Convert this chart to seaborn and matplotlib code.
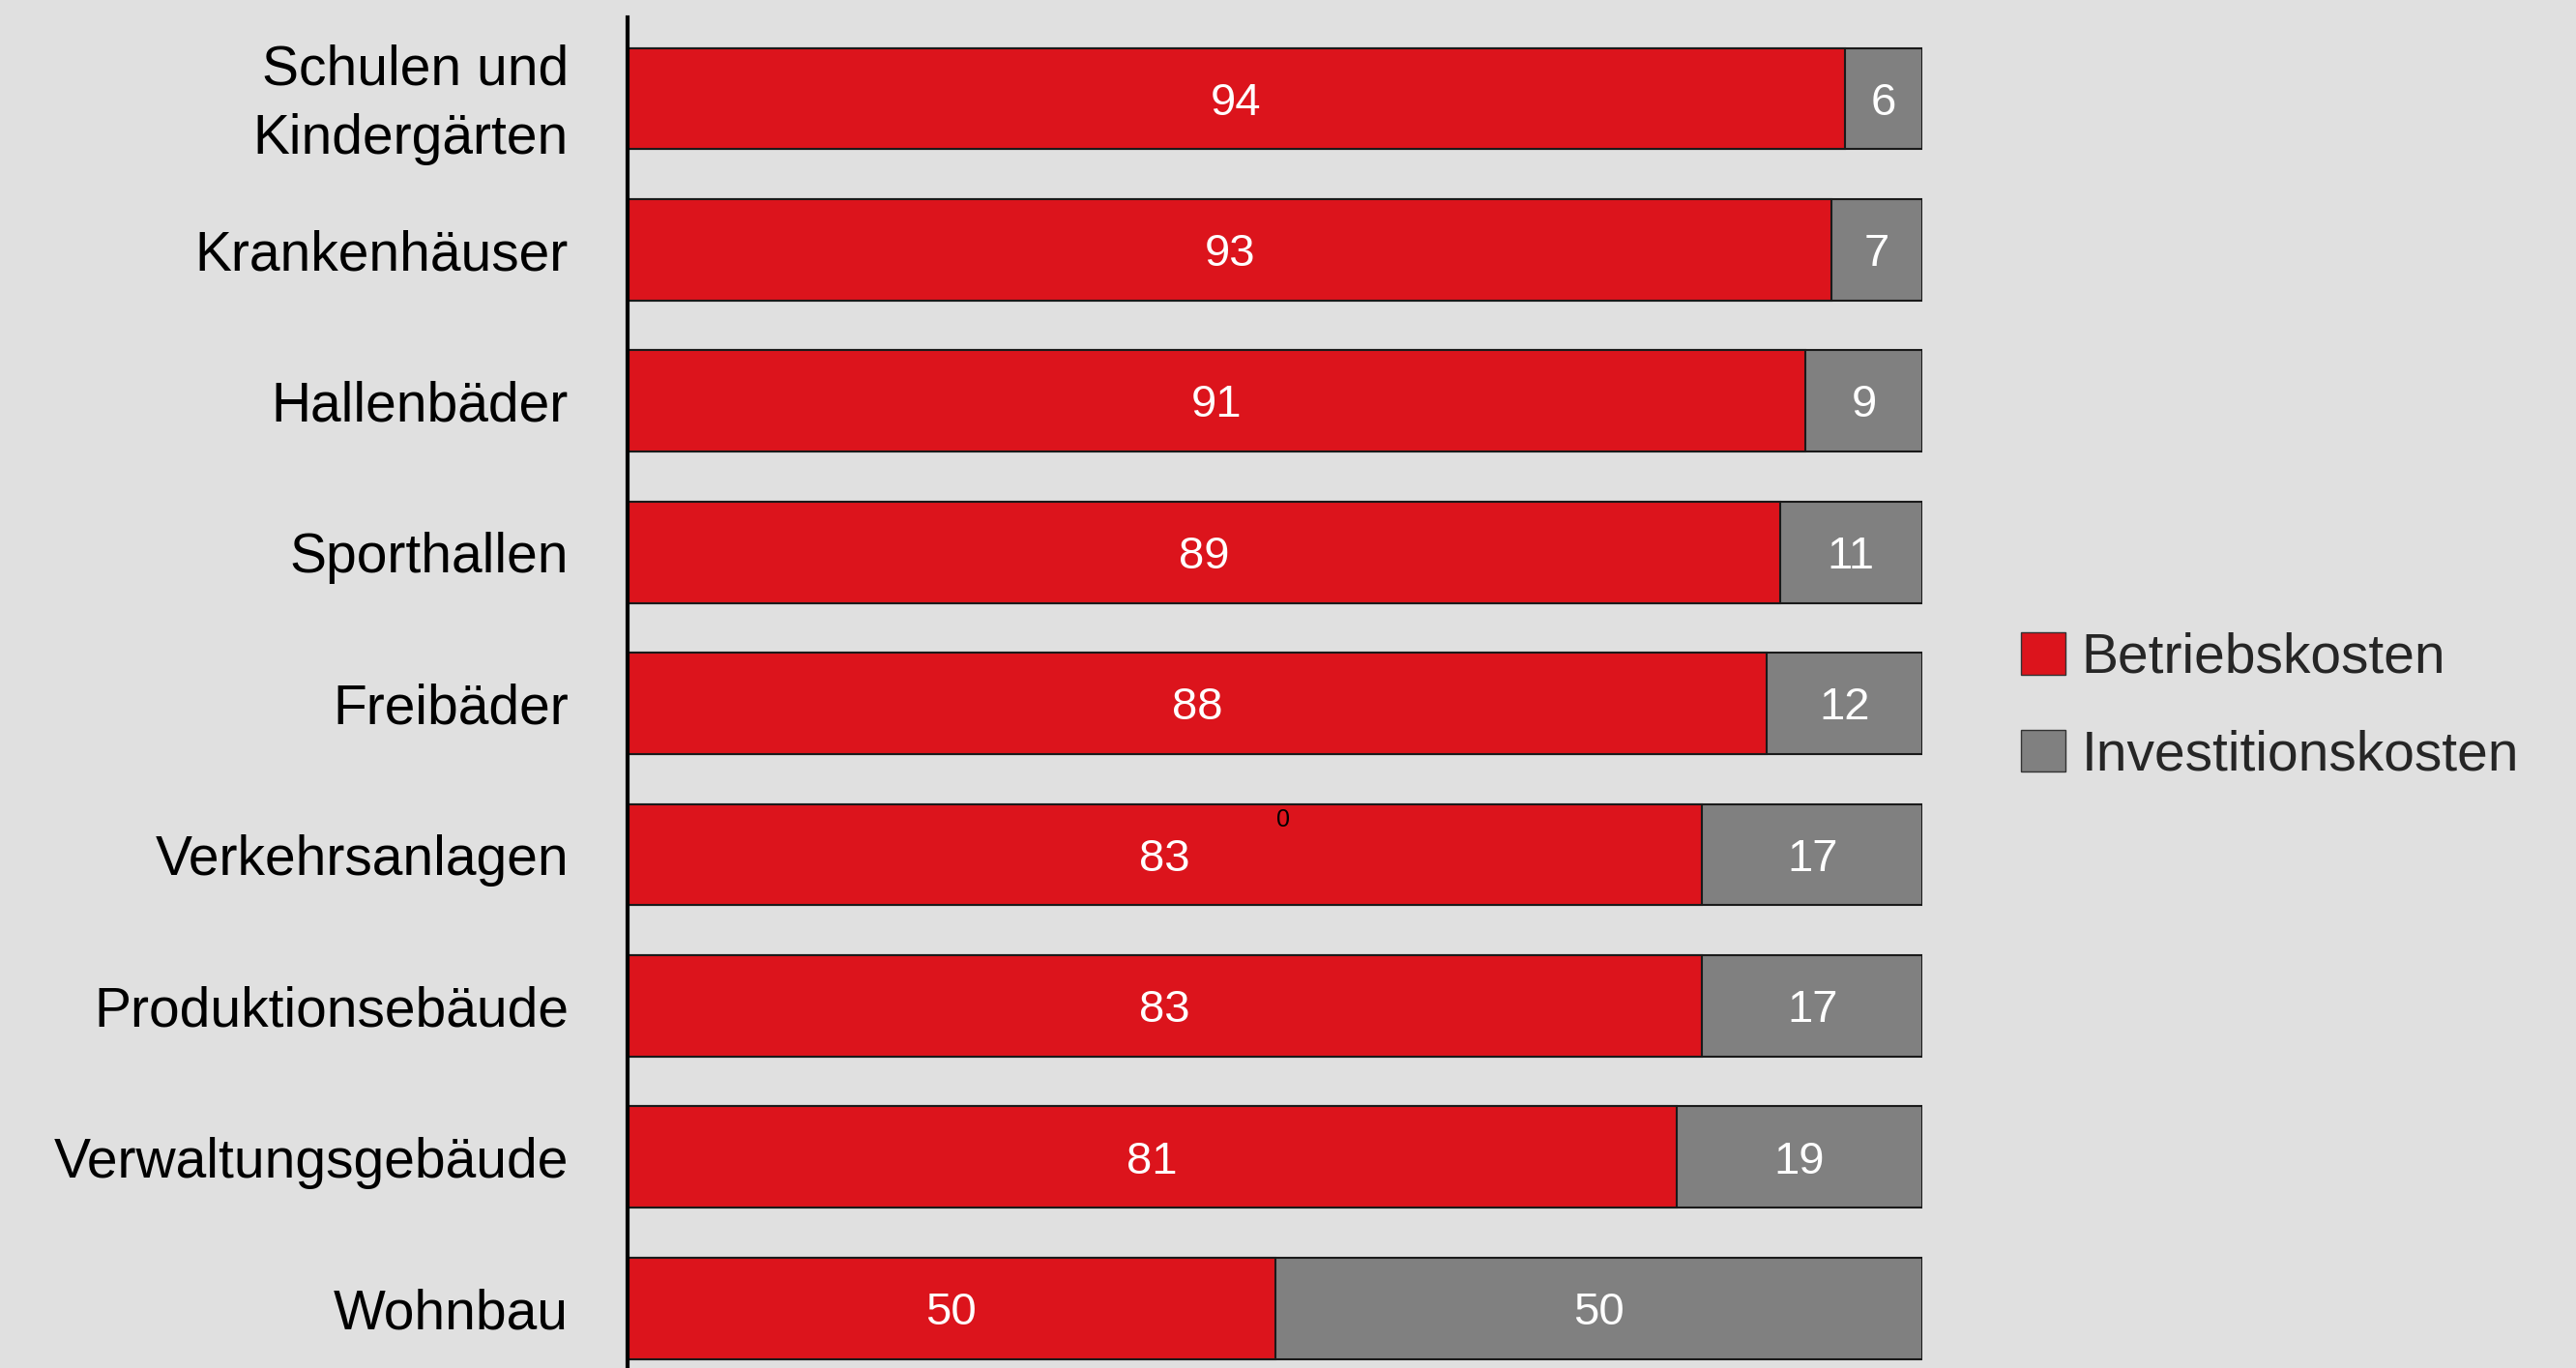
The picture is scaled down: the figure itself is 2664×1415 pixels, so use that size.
import matplotlib
matplotlib.use("Agg")
import matplotlib.pyplot as plt
import matplotlib.transforms as mtransforms
from matplotlib.patches import Patch
import seaborn as sns
import pandas as pd

categories = ["Schulen und\nKindergärten", "Krankenhäuser", "Hallenbäder", "Sporthallen",
              "Freibäder", "Verkehrsanlagen", "Produktionsebäude", "Verwaltungsgebäude", "Wohnbau"]
betriebskosten = [94, 93, 91, 89, 88, 83, 83, 81, 50]
investitionskosten = [6, 7, 9, 11, 12, 17, 17, 19, 50]

RED = "#DC141C"
GRAY = "#808080"
BG = "#E0E0E0"

sns.set_theme(style="white")
plt.rcParams["font.family"] = ["Liberation Sans", "DejaVu Sans"]

df = pd.DataFrame({
    "Kategorie": categories,
    "Betriebskosten": betriebskosten,
    "Investitionskosten": investitionskosten,
})
df["Gesamt"] = df["Betriebskosten"] + df["Investitionskosten"]

W, H = 2664, 1415
fig = plt.figure(figsize=(W / 100, H / 100), dpi=100, facecolor=BG)
ax = fig.add_axes([649 / W, 0, (1988 - 649) / W, 1 - 18 / H])
ax.set_facecolor(BG)

sns.barplot(data=df, x="Gesamt", y="Kategorie", color=GRAY, width=0.67,
            edgecolor="#1a1a1a", linewidth=1.5, saturation=1, ax=ax, orient="h")
sns.barplot(data=df, x="Betriebskosten", y="Kategorie", color=RED, width=0.67,
            edgecolor="#1a1a1a", linewidth=1.5, saturation=1, ax=ax, orient="h")

for i, (b, inv) in enumerate(zip(betriebskosten, investitionskosten)):
    ax.text(b / 2, i + 0.03, str(b), ha="center", va="center", color="white", fontsize=34)
    ax.text(b + inv / 2, i + 0.03, str(inv), ha="center", va="center", color="white", fontsize=34)

# stray small label present in the reference
ax.text(50.6, 5 - 0.23, "0", ha="center", va="center", color="black", fontsize=18)

ax.set_xlim(0, 100)
ax.set_ylim(8.395, -0.537)
ax.set_xlabel("")
ax.set_ylabel("")
ax.set_xticks([])
for s in ["top", "right", "bottom"]:
    ax.spines[s].set_visible(False)
ax.spines["left"].set_color("black")
ax.spines["left"].set_linewidth(3)
ax.tick_params(axis="y", length=0, pad=44, labelsize=41, labelcolor="black")
for lbl in ax.get_yticklabels():
    lbl.set_linespacing(1.4)

# the two-line label sits slightly higher in the reference
first = ax.yaxis.get_major_ticks()[0].label1
first.set_transform(first.get_transform() +
                    mtransforms.ScaledTranslation(0, 8 / 100, fig.dpi_scale_trans))

handles = [Patch(facecolor=RED, edgecolor="#333333", label="Betriebskosten"),
           Patch(facecolor=GRAY, edgecolor="#333333", label="Investitionskosten")]
fig.legend(handles=handles, loc="center left", bbox_to_anchor=(2090 / W, 1 - 731 / H),
           frameon=False, fontsize=41, handlelength=0.8, handleheight=0.8,
           handletextpad=0.3, labelspacing=0.82, borderpad=0, borderaxespad=0)

fig.savefig("out.png", dpi=100, facecolor=BG)
